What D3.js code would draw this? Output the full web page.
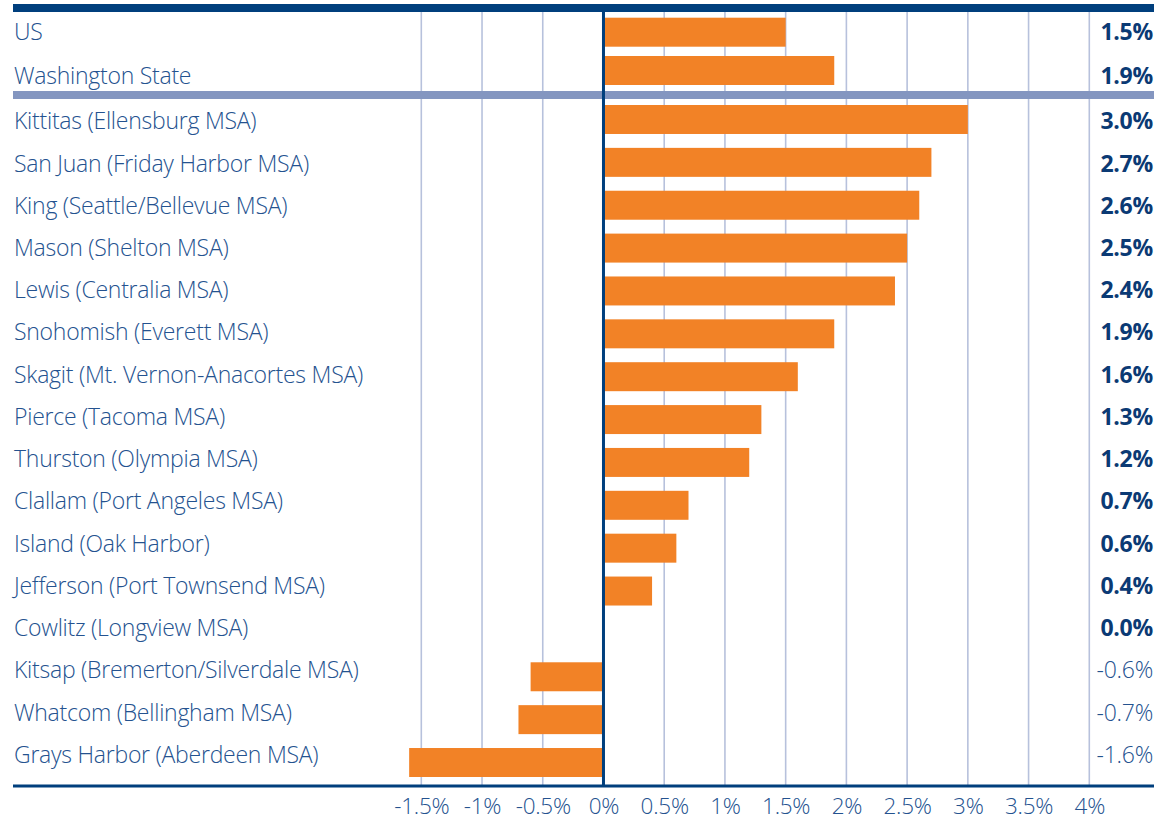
<!DOCTYPE html>
<html>
<head>
<meta charset="utf-8">
<script src="https://cdn.jsdelivr.net/npm/d3@7"></script>
<style>
  body { margin: 0; background: #fff; }
  text { font-family: "Open Sans", "Noto Sans", sans-serif; }
</style>
</head>
<body>
<div id="chart"></div>
<script>
// top group (benchmarks)
const topNames = ["US", "Washington State"];
const topValues = [1.5, 1.9];

// counties / MSAs
const msaNames = [
  "Kittitas (Ellensburg MSA)",
  "San Juan (Friday Harbor MSA)",
  "King (Seattle/Bellevue MSA)",
  "Mason (Shelton MSA)",
  "Lewis (Centralia MSA)",
  "Snohomish (Everett MSA)",
  "Skagit (Mt. Vernon-Anacortes MSA)",
  "Pierce (Tacoma MSA)",
  "Thurston (Olympia MSA)",
  "Clallam (Port Angeles MSA)",
  "Island (Oak Harbor)",
  "Jefferson (Port Townsend MSA)",
  "Cowlitz (Longview MSA)",
  "Kitsap (Bremerton/Silverdale MSA)",
  "Whatcom (Bellingham MSA)",
  "Grays Harbor (Aberdeen MSA)"
];
const msaValues = [3.0, 2.7, 2.6, 2.5, 2.4, 1.9, 1.6, 1.3, 1.2, 0.7, 0.6, 0.4, 0.0, -0.6, -0.7, -1.6];

const tickValues = [-1.5, -1, -0.5, 0, 0.5, 1, 1.5, 2, 2.5, 3, 3.5, 4];

const W = 1173, H = 821;
const left = 13, right = 1154;
const orange = "#f28226", navy = "#003f7d", labelBlue = "#24528f";

const svg = d3.select("#chart").append("svg")
  .attr("width", W)
  .attr("height", H);

const x = d3.scaleLinear().domain([-1.5, 4]).range([421.3, 1089.3]);

const yTop = d3.scaleBand().domain(topNames).range([17.7, 85]).paddingInner(0.243).paddingOuter(0);
const yMsa = d3.scaleBand().domain(msaNames).range([105, 777]).paddingInner(0.324).paddingOuter(0);
// the text column is spaced a bit differently from the bars
const yTopLabel = d3.scalePoint().domain(topNames).range([31.5, 76]);
const yMsaLabel = d3.scalePoint().domain(msaNames).range([121, 754.5]);

const topRows = topNames.map((n, i) => ({ name: n, value: topValues[i], y: yTop(n), h: yTop.bandwidth(), ly: yTopLabel(n) }));
const msaRows = msaNames.map((n, i) => ({ name: n, value: msaValues[i], y: yMsa(n), h: yMsa.bandwidth(), ly: yMsaLabel(n) }));
const rows = topRows.concat(msaRows);

// gridlines
svg.append("g")
  .selectAll("line")
  .data(tickValues.filter(d => d !== 0))
  .join("line")
  .attr("x1", d => x(d)).attr("x2", d => x(d))
  .attr("y1", 12).attr("y2", 785)
  .attr("stroke", "#b7c1dc")
  .attr("stroke-width", 1.6);

// bars
svg.append("g")
  .selectAll("rect")
  .data(rows)
  .join("rect")
  .attr("x", d => x(Math.min(0, d.value)))
  .attr("width", d => Math.abs(x(d.value) - x(0)))
  .attr("y", d => d.y)
  .attr("height", d => d.h)
  .attr("fill", orange);

// horizontal rules
svg.append("rect").attr("x", left).attr("y", 4).attr("width", right - left).attr("height", 8).attr("fill", navy);
svg.append("rect").attr("x", left).attr("y", 91).attr("width", right - left).attr("height", 8).attr("fill", "#8496c0");
svg.append("rect").attr("x", left).attr("y", 784.5).attr("width", right - left).attr("height", 3).attr("fill", navy);

// zero line
svg.append("line")
  .attr("x1", x(0)).attr("x2", x(0))
  .attr("y1", 12).attr("y2", 785)
  .attr("stroke", navy)
  .attr("stroke-width", 3);

// category labels
svg.append("g")
  .selectAll("text")
  .data(rows)
  .join("text")
  .attr("x", 14)
  .attr("y", d => d.ly)
  .attr("dy", "0.36em")
  .attr("font-size", "23px")
  .attr("font-weight", 300)
  .attr("letter-spacing", "-0.25px")
  .attr("fill", labelBlue)
  .text(d => d.name);

// value labels
svg.append("g")
  .selectAll("text")
  .data(rows)
  .join("text")
  .attr("x", 1153)
  .attr("y", d => d.ly)
  .attr("dy", "0.36em")
  .attr("text-anchor", "end")
  .attr("font-size", "23px")
  .attr("font-weight", d => d.value >= 0 ? 700 : 300)
  .attr("letter-spacing", "-0.25px")
  .attr("fill", d => d.value >= 0 ? "#0b3a74" : labelBlue)
  .text(d => d.value.toFixed(1) + "%");

// x axis labels
const xAxis = svg.append("g")
  .attr("transform", "translate(0,786)")
  .call(d3.axisBottom(x).tickValues(tickValues).tickFormat(d => d + "%").tickSize(0).tickPadding(12));
xAxis.select(".domain").remove();
xAxis.selectAll("text")
  .attr("font-size", "22.5px")
  .attr("font-weight", 300)
  .attr("letter-spacing", "-0.25px")
  .attr("font-family", "Open Sans, Noto Sans, sans-serif")
  .attr("fill", labelBlue);
</script>
</body>
</html>
